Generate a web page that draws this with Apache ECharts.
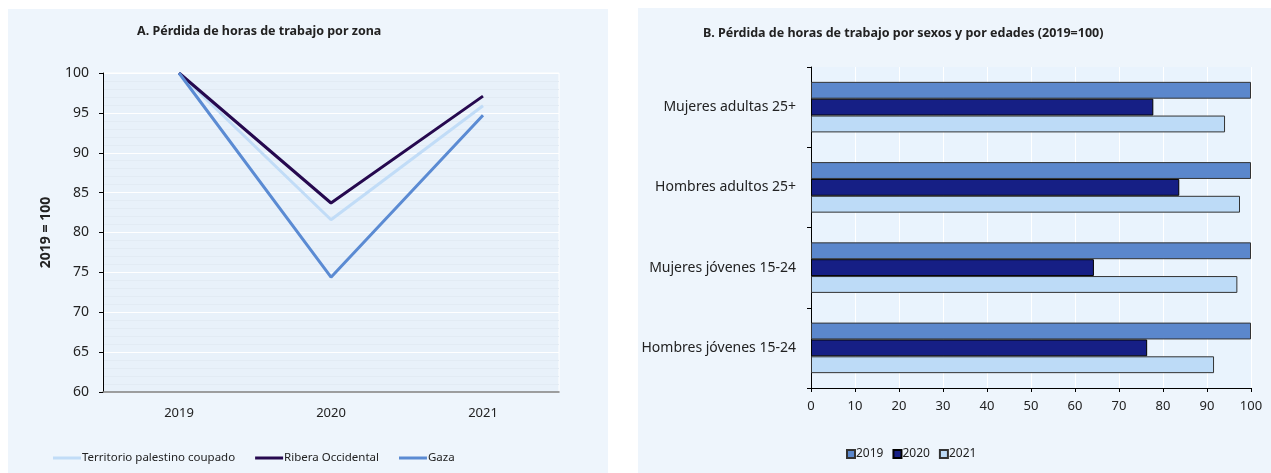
<!DOCTYPE html>
<html>
<head>
<meta charset="utf-8">
<script src="https://cdn.jsdelivr.net/npm/echarts@6/dist/echarts.min.js"></script>
<style>
  html, body { margin: 0; padding: 0; background: #fff; }
  #main { width: 1271px; height: 473px; }
</style>
</head>
<body>
<div id="main"></div>
<script>
// Panel A: horas de trabajo por zona (2019 = 100)
var years = ['2019', '2020', '2021'];
var territorio = [100, 81.6, 95.9];
var ribera = [100, 83.7, 97.1];
var gaza = [100, 74.4, 94.7];

// Panel B: por sexos y por edades (2019 = 100), listed top to bottom
var grupos = ['Mujeres adultas 25+', 'Hombres adultos 25+', 'Mujeres jóvenes 15-24', 'Hombres jóvenes 15-24'];
var valores2019 = [100, 100, 100, 100];
var valores2020 = [77.8, 83.7, 64.3, 76.4];
var valores2021 = [94.1, 97.5, 96.9, 91.6];

var font = '"Noto Sans", "Open Sans", sans-serif';
var txt = '#222';

var chart = echarts.init(document.getElementById('main'));

var option = {
  backgroundColor: '#fff',
  textStyle: { fontFamily: font, color: txt },
  animation: false,
  graphic: [
    { type: 'rect', z: -10, shape: { x: 8, y: 9, width: 600, height: 464 }, style: { fill: '#eef5fc' } },
    { type: 'rect', z: -10, shape: { x: 638, y: 8, width: 633, height: 465 }, style: { fill: '#eef5fc' } }
  ],
  title: [
    {
      text: 'A. Pérdida de horas de trabajo por zona',
      left: 132, top: 20,
      textStyle: { fontFamily: font, fontSize: 12.5, fontWeight: 'bold', color: txt }
    },
    {
      text: '{b|B. Pérdida de horas de trabajo por sexos y por edades}{n| (2019=100)}',
      left: 698, top: 22,
      textStyle: {
        rich: {
          b: { fontFamily: font, fontSize: 12.5, fontWeight: 'bold', color: txt },
          n: { fontFamily: font, fontSize: 12.5, color: txt }
        }
      }
    }
  ],
  legend: [
    {
      left: 48, top: 447,
      icon: 'rect', itemWidth: 28, itemHeight: 3, itemGap: 20,
      textStyle: { fontFamily: font, fontSize: 11.5, color: txt, padding: [0, 0, 0, -4] },
      data: ['Territorio palestino coupado', 'Ribera Occidental', 'Gaza']
    },
    {
      left: 841, top: 443,
      icon: 'rect', itemWidth: 8, itemHeight: 8, itemGap: 9,
      textStyle: { fontFamily: font, fontSize: 12, color: txt, padding: [0, 0, 0, -4] },
      data: ['2019', '2020', '2021']
    }
  ],
  grid: [
    { left: 103, top: 73, width: 456, height: 319, show: true, backgroundColor: '#e8f1fa', borderColor: '#fff', borderWidth: 1 },
    { left: 811, top: 67, width: 440, height: 321, show: true, backgroundColor: '#e9f3fd', borderWidth: 0 }
  ],
  xAxis: [
    {
      gridIndex: 0, type: 'category', data: years, boundaryGap: true,
      axisLine: { lineStyle: { color: '#7f7f7f', width: 1.5 } },
      axisTick: { alignWithLabel: true, length: 4, lineStyle: { color: '#7f7f7f' } },
      axisLabel: { fontFamily: font, fontSize: 13, color: txt, margin: 15 },
      splitLine: { show: false }
    },
    {
      gridIndex: 1, type: 'value', min: 0, max: 100, interval: 10,
      axisLine: { show: true, lineStyle: { color: '#000' } },
      axisTick: { show: true, length: 4, lineStyle: { color: '#000' } },
      axisLabel: { fontFamily: font, fontSize: 13, color: txt, margin: 12 },
      splitLine: { show: true, lineStyle: { color: '#fff', width: 1 } }
    }
  ],
  yAxis: [
    {
      gridIndex: 0, type: 'value', min: 60, max: 100, interval: 5,
      name: '2019 = 100', nameLocation: 'middle', nameGap: 50, nameRotate: 90,
      nameTextStyle: { fontFamily: font, fontSize: 14, fontWeight: 'bold', color: txt },
      axisLine: { show: true, lineStyle: { color: '#000' } },
      axisTick: { show: true, length: 4, lineStyle: { color: '#000' } },
      axisLabel: { fontFamily: font, fontSize: 14, color: txt, margin: 14 },
      splitLine: { show: true, lineStyle: { color: '#fff', width: 1 } },
      minorTick: { show: false, splitNumber: 5 },
      minorSplitLine: { show: true, lineStyle: { color: '#e2ebf4', width: 1 } }
    },
    {
      gridIndex: 1, type: 'category', data: grupos, inverse: true,
      axisLine: { show: true, lineStyle: { color: '#000' } },
      axisTick: { show: true, length: 4, lineStyle: { color: '#000' } },
      axisLabel: { fontFamily: font, fontSize: 14, color: txt, margin: 15 },
      splitLine: { show: false }
    }
  ],
  series: [
    {
      name: 'Territorio palestino coupado', type: 'line', xAxisIndex: 0, yAxisIndex: 0,
      data: territorio, showSymbol: false, symbol: 'none', z: 3,
      lineStyle: { color: '#c1dcf7', width: 3 }, itemStyle: { color: '#c1dcf7' }
    },
    {
      name: 'Ribera Occidental', type: 'line', xAxisIndex: 0, yAxisIndex: 0,
      data: ribera, showSymbol: false, symbol: 'none', z: 4,
      lineStyle: { color: '#26094f', width: 3 }, itemStyle: { color: '#26094f' }
    },
    {
      name: 'Gaza', type: 'line', xAxisIndex: 0, yAxisIndex: 0,
      data: gaza, showSymbol: false, symbol: 'none', z: 5,
      lineStyle: { color: '#5b8bd3', width: 3 }, itemStyle: { color: '#5b8bd3' }
    },
    {
      name: '2019', type: 'bar', xAxisIndex: 1, yAxisIndex: 1, data: valores2019,
      barGap: '0%', barCategoryGap: '37%',
      itemStyle: { color: '#5b87cc', borderColor: '#333', borderWidth: 1 }
    },
    {
      name: '2020', type: 'bar', xAxisIndex: 1, yAxisIndex: 1, data: valores2020,
      barGap: '0%', barCategoryGap: '37%',
      itemStyle: { color: '#161f85', borderColor: '#000', borderWidth: 1 }
    },
    {
      name: '2021', type: 'bar', xAxisIndex: 1, yAxisIndex: 1, data: valores2021,
      barGap: '0%', barCategoryGap: '37%',
      itemStyle: { color: '#bddbf7', borderColor: '#333', borderWidth: 1 }
    }
  ]
};

chart.setOption(option);
</script>
</body>
</html>
